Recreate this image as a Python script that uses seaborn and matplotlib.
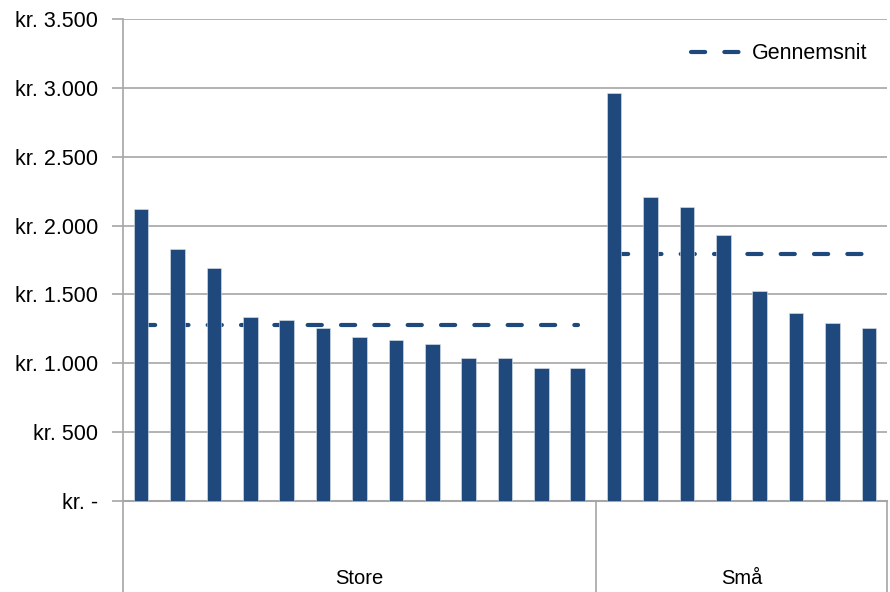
import numpy as np
import pandas as pd
import matplotlib
matplotlib.use("Agg")
import matplotlib.pyplot as plt
from matplotlib.ticker import FuncFormatter
import seaborn as sns

# data
store_values = [2120, 1830, 1692, 1334, 1312, 1258, 1193, 1171, 1140, 1040, 1040, 963, 963]
smaa_values = [2964, 2207, 2132, 1929, 1527, 1365, 1290, 1258]
store_avg = 1278
smaa_avg = 1793
groups = ["Store", "Små"]
y_ticks = [0, 500, 1000, 1500, 2000, 2500, 3000, 3500]

bar_color = "#1F497D"
grid_color = "#A6A6A6"

sns.set_theme(style="white")
plt.rcParams["font.family"] = ["Liberation Sans", "DejaVu Sans"]
plt.rcParams["text.color"] = "black"

values = store_values + smaa_values
df = pd.DataFrame({
    "pos": [str(i) for i in range(len(values))],
    "value": values,
    "gruppe": ["Store"] * len(store_values) + ["Små"] * len(smaa_values),
})

fig = plt.figure(figsize=(8.9, 5.92), dpi=100)
ax = fig.add_axes([0.1382, 0.1537, 0.8584, 0.8142])

sns.barplot(data=df, x="pos", y="value", color=bar_color, width=0.4,
            saturation=1, edgecolor="#dfe6ee", linewidth=0.4, ax=ax, zorder=3)

# gennemsnit lines per gruppe
n_store = len(store_values)
x_store = np.arange(n_store)
x_smaa = np.arange(n_store, len(values))
dash = (0, (3.4, 4.6))
ax.plot(x_store, [store_avg] * len(x_store), color=bar_color, lw=3, ls=dash,
        dash_capstyle="round", zorder=2, label="Gennemsnit")
ax.plot(x_smaa, [smaa_avg] * len(x_smaa), color=bar_color, lw=3, ls=dash,
        dash_capstyle="round", zorder=2)

ax.set_ylim(0, 3500)
ax.set_xlim(-0.5, len(values) - 0.5)
ax.set_yticks(y_ticks)
ax.yaxis.set_major_formatter(FuncFormatter(
    lambda v, p: "kr. -" if v == 0 else "kr. " + f"{int(v):,}".replace(",", ".")))
ax.yaxis.grid(True, color=grid_color, lw=1.2)
ax.set_axisbelow(True)
ax.tick_params(axis="y", left=True, length=8, width=1.2, color=grid_color,
               labelsize=15.5, labelcolor="black", pad=10)
ax.tick_params(axis="x", bottom=False, labelbottom=False)
ax.set_xlabel("")
ax.set_ylabel("")

for s in ["top", "right"]:
    ax.spines[s].set_visible(False)
ax.spines["left"].set_color(grid_color)
ax.spines["left"].set_linewidth(1.2)
ax.spines["bottom"].set_color(grid_color)
ax.spines["bottom"].set_linewidth(1.5)

# group axis below the bars
trans = ax.get_xaxis_transform()
bounds = [-0.5, n_store - 0.5, len(values) - 0.5]
for b in bounds:
    ax.plot([b, b], [0, -0.2], color=grid_color, lw=1.2, transform=trans,
            clip_on=False)
ax.text((bounds[0] + bounds[1]) / 2, -0.16, groups[0], transform=trans,
        ha="center", va="center", fontsize=14.5, color="black")
ax.text((bounds[1] + bounds[2]) / 2, -0.16, groups[1], transform=trans,
        ha="center", va="center", fontsize=14.5, color="black")

leg = ax.legend(loc="upper right", frameon=False, fontsize=15.5,
                handlelength=2.4, handletextpad=0.45,
                bbox_to_anchor=(1.0, 0.99), labelcolor="black")

fig.savefig("out.png", dpi=100)
